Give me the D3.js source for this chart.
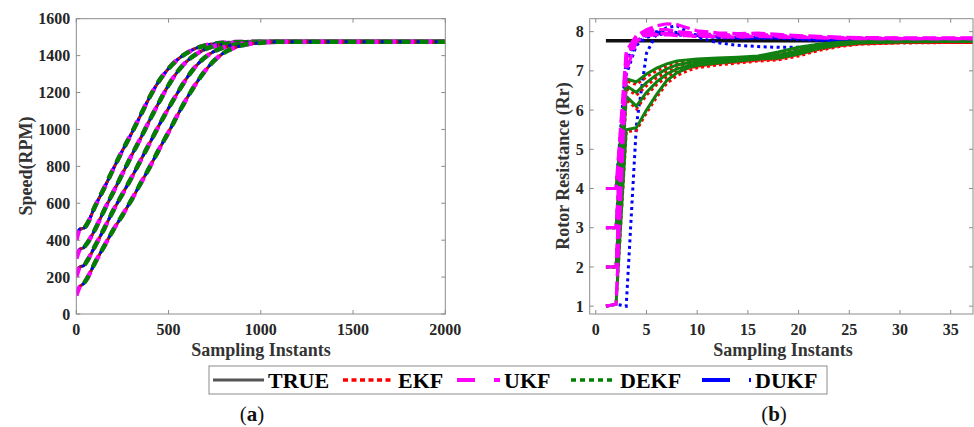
<!DOCTYPE html>
<html>
<head>
<meta charset="utf-8">
<script src="https://cdn.jsdelivr.net/npm/d3@7"></script>
<style>
  body { margin: 0; background: #fff; }
  text { font-family: "Liberation Serif", "Times New Roman", serif; font-weight: bold; fill: #262626; }
</style>
</head>
<body>
<svg id="fig" width="974" height="427"></svg>
<script>

// ---------- (a) speed, four runs ----------
const speedT = [0, 20, 40, 60, 100, 150, 200, 250, 300, 350, 400, 450, 500, 550, 600, 650, 700, 750, 800, 850, 900, 1000, 1100, 2000];
const speedRunA = [430, 460, 465, 490, 580, 680, 785, 885, 980, 1080, 1180, 1265, 1330, 1380, 1415, 1440, 1455, 1465, 1470, 1473, 1474, 1475, 1475, 1475];
const speedRunB = [320, 350, 360, 385, 455, 560, 660, 760, 860, 955, 1055, 1150, 1240, 1315, 1370, 1408, 1435, 1452, 1462, 1468, 1472, 1475, 1475, 1475];
const speedRunC = [215, 255, 262, 290, 365, 460, 560, 650, 740, 835, 930, 1025, 1115, 1200, 1280, 1345, 1392, 1425, 1445, 1458, 1466, 1473, 1475, 1475];
const speedRunD = [115, 150, 165, 195, 275, 365, 455, 535, 620, 710, 800, 895, 985, 1080, 1170, 1250, 1320, 1375, 1415, 1440, 1456, 1470, 1475, 1475];
const ukfSpeedInit = [400, 300, 200, 100];   // first estimate of each run
const dekfSpeedInit = [455, 355, 255, 150];

// ---------- (b) rotor resistance ----------
const rrT = [1, 2, 3, 4, 5, 6, 7, 8, 9, 10, 12, 14, 16, 18, 20, 22, 24, 26, 30, 34, 38];
const trueT = [1, 38];
const trueRr = [7.77, 7.77];

const ekfRr = [
  [4, 4, 6.75, 6.65, 6.85, 7.0, 7.12, 7.2, 7.23, 7.26, 7.29, 7.3, 7.33, 7.42, 7.55, 7.64, 7.7, 7.72, 7.73, 7.73, 7.73],
  [3, 3, 6.55, 6.38, 6.62, 6.83, 6.98, 7.08, 7.14, 7.19, 7.23, 7.27, 7.3, 7.35, 7.47, 7.58, 7.66, 7.7, 7.72, 7.73, 7.73],
  [2, 2, 6.28, 6.03, 6.38, 6.65, 6.85, 6.98, 7.06, 7.12, 7.19, 7.23, 7.27, 7.31, 7.42, 7.55, 7.64, 7.69, 7.72, 7.73, 7.73],
  [1, 1.05, 5.45, 5.48, 5.93, 6.33, 6.68, 6.88, 7.0, 7.08, 7.15, 7.2, 7.25, 7.28, 7.38, 7.52, 7.62, 7.68, 7.71, 7.72, 7.72]
];
const dekfRr = [
  [4, 4, 6.8, 6.72, 6.92, 7.07, 7.18, 7.25, 7.28, 7.3, 7.33, 7.35, 7.38, 7.48, 7.6, 7.68, 7.73, 7.75, 7.75, 7.75, 7.75],
  [3, 3, 6.62, 6.45, 6.7, 6.9, 7.05, 7.15, 7.2, 7.24, 7.28, 7.32, 7.35, 7.4, 7.52, 7.63, 7.7, 7.73, 7.75, 7.75, 7.75],
  [2, 2, 6.35, 6.1, 6.45, 6.72, 6.92, 7.05, 7.12, 7.18, 7.24, 7.28, 7.32, 7.36, 7.47, 7.6, 7.68, 7.72, 7.74, 7.75, 7.75],
  [1, 1.05, 5.5, 5.55, 6.0, 6.4, 6.75, 6.95, 7.07, 7.14, 7.2, 7.25, 7.3, 7.33, 7.43, 7.57, 7.66, 7.71, 7.74, 7.75, 7.75]
];
const ukfRr = [
  [4, 4, 7.5, 7.9, 8.05, 8.15, 8.2, 8.18, 8.1, 8.02, 7.97, 7.95, 7.96, 7.93, 7.9, 7.88, 7.86, 7.85, 7.84, 7.84, 7.84],
  [3, 3, 7.4, 7.85, 8.0, 8.05, 8.05, 8.0, 7.98, 7.95, 7.92, 7.92, 7.93, 7.9, 7.88, 7.86, 7.85, 7.84, 7.83, 7.83, 7.83],
  [2, 2, 7.3, 7.8, 7.95, 7.95, 7.95, 7.93, 7.92, 7.9, 7.9, 7.88, 7.9, 7.88, 7.86, 7.85, 7.84, 7.83, 7.82, 7.82, 7.82],
  [1, 1.05, 7.0, 7.75, 7.9, 7.92, 7.92, 7.9, 7.9, 7.88, 7.87, 7.86, 7.88, 7.86, 7.85, 7.84, 7.83, 7.82, 7.82, 7.82, 7.82]
];
const dukfRr = [
  [4, 4, 7.35, 7.75, 7.95, 8.0, 8.0, 7.98, 7.95, 7.92, 7.88, 7.85, 7.85, 7.85, 7.84, 7.8, 7.78, 7.76, 7.75, 7.74, 7.74],
  [3, 3, 7.2, 7.7, 7.9, 7.95, 7.96, 7.94, 7.92, 7.9, 7.86, 7.84, 7.84, 7.84, 7.82, 7.79, 7.77, 7.75, 7.74, 7.73, 7.73],
  [2, 2, 6.9, 7.65, 7.85, 7.92, 7.94, 7.92, 7.9, 7.88, 7.85, 7.83, 7.83, 7.83, 7.8, 7.78, 7.76, 7.74, 7.73, 7.72, 7.72],
  [1, 1.05, 1.0, 5.6, 7.45, 7.95, 8.1, 8.15, 8.0, 7.85, 7.72, 7.65, 7.62, 7.6, 7.6, 7.68, 7.72, 7.73, 7.73, 7.72, 7.72]
];

const legendNames = ["TRUE", "EKF", "UKF", "DEKF", "DUKF"];

const svg = d3.select("#fig");

// draw MATLAB-like box with inward ticks on all four sides
function drawFrame(x, y, xTicks, yTicks) {
  let [x0, x1] = x.range(), [y0, y1] = y.range();
  let g = svg.append("g");
  g.append("rect").attr("x", x0).attr("y", y1).attr("width", x1 - x0).attr("height", y0 - y1)
    .attr("fill", "none").attr("stroke", "#8c8c8c").attr("stroke-width", 1);
  xTicks.forEach(function (t) {
    g.append("line").attr("x1", x(t)).attr("x2", x(t)).attr("y1", y0).attr("y2", y0 - 4).attr("stroke", "#8c8c8c");
    g.append("line").attr("x1", x(t)).attr("x2", x(t)).attr("y1", y1).attr("y2", y1 + 4).attr("stroke", "#8c8c8c");
    g.append("text").attr("x", x(t)).attr("y", y0 + 21).attr("text-anchor", "middle")
      .style("font-size", "16px").text(t);
  });
  yTicks.forEach(function (t) {
    g.append("line").attr("x1", x0).attr("x2", x0 + 4).attr("y1", y(t)).attr("y2", y(t)).attr("stroke", "#8c8c8c");
    g.append("line").attr("x1", x1).attr("x2", x1 - 4).attr("y1", y(t)).attr("y2", y(t)).attr("stroke", "#8c8c8c");
    g.append("text").attr("x", x0 - 6).attr("y", y(t)).attr("dy", "0.35em").attr("text-anchor", "end")
      .style("font-size", "16px").text(t);
  });
}

function clipFor(id, x, y) {
  let [x0, x1] = x.range(), [y0, y1] = y.range();
  svg.append("clipPath").attr("id", id).append("rect")
    .attr("x", x0).attr("y", y1).attr("width", x1 - x0).attr("height", y0 - y1);
  return svg.append("g").attr("clip-path", "url(#" + id + ")");
}

function addLine(g, line, pts, color, width, dash, offset) {
  g.append("path").datum(pts).attr("d", line)
    .attr("fill", "none").attr("stroke", color).attr("stroke-width", width)
    .attr("stroke-dasharray", dash || null).attr("stroke-dashoffset", offset || 0);
}

// ---------- panel (a) ----------
let xa = d3.scaleLinear().domain([0, 2000]).range([76.3, 445.3]);
let ya = d3.scaleLinear().domain([0, 1600]).range([314, 18.7]);
let ga = clipFor("clipA", xa, ya);
let lineA = d3.line().x(d => xa(d[0])).y(d => ya(d[1])).curve(d3.curveMonotoneX);

[speedRunA, speedRunB, speedRunC, speedRunD].forEach(function (run, i) {
  let truth = speedT.map((t, k) => [t, run[k]]);
  let ukf = truth.map((p, k) => k == 0 ? [p[0], ukfSpeedInit[i]] : p);
  let dekf = truth.map((p, k) => k == 0 ? [p[0], dekfSpeedInit[i]] : p);
  addLine(ga, lineA, truth, "#333", 3);
  addLine(ga, lineA, truth, "#ff0000", 3, "3,3");
  addLine(ga, lineA, truth, "#0000ff", 3, "3,3", 1.5);
  addLine(ga, lineA, ukf, "#ff00ff", 4.5, "10,8");
  addLine(ga, lineA, dekf, "#007f00", 4.5, "9,9", 9);
});
drawFrame(xa, ya, [0, 500, 1000, 1500, 2000], d3.range(0, 1601, 200));

svg.append("text").attr("x", 261).attr("y", 356).attr("text-anchor", "middle")
  .style("font-size", "18px").style("fill", "#333").text("Sampling Instants");
svg.append("text").attr("transform", "translate(32,166) rotate(-90)").attr("text-anchor", "middle")
  .style("font-size", "18px").style("fill", "#333").text("Speed(RPM)");

// ---------- panel (b) ----------
let xb = d3.scaleLinear().domain([-0.6, 37.2]).range([589.7, 973]);
let yb = d3.scaleLinear().domain([0.8, 8.33]).range([314, 18.7]);
let gb = clipFor("clipB", xb, yb);
let lineB = d3.line().x(d => xb(d[0])).y(d => yb(d[1]));

addLine(gb, lineB, trueT.map((t, k) => [t, trueRr[k]]), "#111", 3.5);
dukfRr.forEach(r => addLine(gb, lineB, rrT.map((t, k) => [t, r[k]]), "#0000ff", 3, "3,3.5"));
ekfRr.forEach(r => addLine(gb, lineB, rrT.map((t, k) => [t, r[k]]), "#ff0000", 3, "3,3"));
dekfRr.forEach(r => addLine(gb, lineB, rrT.map((t, k) => [t, r[k]]), "#108010", 3));
ukfRr.forEach(r => addLine(gb, lineB, rrT.map((t, k) => [t, r[k]]), "#ff00ff", 3.2, "14,5"));
drawFrame(xb, yb, d3.range(0, 36, 5), d3.range(1, 9));

svg.append("text").attr("x", 783).attr("y", 356).attr("text-anchor", "middle")
  .style("font-size", "18px").style("fill", "#333").text("Sampling Instants");
svg.append("text").attr("transform", "translate(569,166) rotate(-90)").attr("text-anchor", "middle")
  .style("font-size", "18px").style("fill", "#333").text("Rotor Resistance (Rr)");

// ---------- legend ----------
let lg = svg.append("g");
lg.append("rect").attr("x", 209).attr("y", 366).attr("width", 618).attr("height", 28)
  .attr("fill", "#fff").attr("stroke", "#8c8c8c");
let legStyle = [
  { c: "#555", w: 3, d: null, x: 213, tx: 268 },
  { c: "#ff0000", w: 3.5, d: "5,3.5", x: 343, tx: 398 },
  { c: "#ff00ff", w: 4, d: "18,19", x: 457, tx: 504 },
  { c: "#008000", w: 3.5, d: "5,4", x: 571, tx: 620 },
  { c: "#0000ff", w: 4, d: "28,19", x: 702, tx: 755 }
];
legendNames.forEach(function (name, i) {
  let s = legStyle[i];
  lg.append("line").attr("x1", s.x).attr("x2", s.tx - 4).attr("y1", 380).attr("y2", 380)
    .attr("stroke", s.c).attr("stroke-width", s.w).attr("stroke-dasharray", s.d);
  lg.append("text").attr("x", s.tx).attr("y", 388).style("font-size", "22px").style("fill", "#000").text(name);
});

// ---------- panel letters ----------
[["a", 252], ["b", 774]].forEach(function (p) {
  let t = svg.append("text").attr("x", p[1]).attr("y", 421).attr("text-anchor", "middle")
    .style("font-size", "21px").style("font-weight", "normal").style("fill", "#111");
  t.append("tspan").text("(");
  t.append("tspan").style("font-weight", "bold").text(p[0]);
  t.append("tspan").text(")");
});
</script>
</body>
</html>
